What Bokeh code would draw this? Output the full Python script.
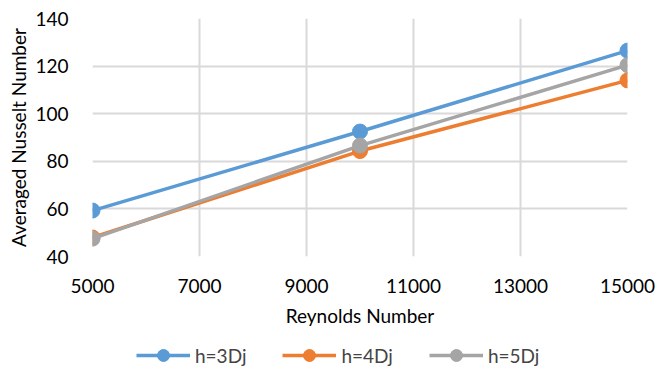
from bokeh.plotting import figure
from bokeh.layouts import column
from bokeh.models import Range1d, FixedTicker, Legend, LegendItem
from bokeh.embed import file_html
from bokeh.resources import INLINE

reynolds = [5000, 10000, 15000]
nu_3dj = [59.3, 92.5, 126.5]
nu_4dj = [48.0, 84.3, 114.0]
nu_5dj = [47.5, 86.6, 120.4]
series_names = ["h=3Dj", "h=4Dj", "h=5Dj"]
colors = ["#5b9bd5", "#ed7d31", "#a5a5a5"]
x_ticks = [5000, 7000, 9000, 11000, 13000, 15000]
y_ticks = [40, 60, 80, 100, 120, 140]

FONT = "Lato"
FS = "19px"

p = figure(width=655, height=330,
           output_backend="svg", toolbar_location=None,
           x_range=Range1d(5000, 15000), y_range=Range1d(40, 140),
           min_border_left=92, min_border_right=28, min_border_top=18, min_border_bottom=74)
p.outline_line_color = None
p.background_fill_color = "white"
p.border_fill_color = "white"

series = [nu_3dj, nu_4dj, nu_5dj]
for name, vals, c in zip(series_names, series, colors):
    p.line(reynolds, vals, line_color=c, line_width=3.5)
    p.scatter(reynolds, vals, size=15, fill_color=c, line_color=c)

for ax in (p.xaxis[0], p.yaxis[0]):
    ax.axis_line_color = None
    ax.major_tick_line_color = None
    ax.minor_tick_line_color = None
    ax.major_label_text_font = FONT
    ax.major_label_text_font_size = FS
    ax.major_label_text_color = "#000000"
    ax.axis_label_text_font = FONT
    ax.axis_label_text_font_size = FS
    ax.axis_label_text_font_style = "normal"
    ax.axis_label_text_color = "#000000"

p.xaxis.ticker = FixedTicker(ticks=x_ticks)
p.yaxis.ticker = FixedTicker(ticks=y_ticks)
p.xaxis.axis_label = "Reynolds Number"
p.yaxis.axis_label = "Averaged Nusselt Number"
p.xaxis.major_label_standoff = 16
p.yaxis.major_label_standoff = 18
p.xaxis.axis_label_standoff = 8
p.yaxis.axis_label_standoff = 2

p.xgrid.grid_line_color = "#d9d9d9"
p.ygrid.grid_line_color = "#d9d9d9"
p.xgrid.grid_line_width = 2
p.ygrid.grid_line_width = 2

# legend strip: same series drawn outside its visible range, legend only
lf = figure(width=655, height=48, output_backend="svg", toolbar_location=None,
            x_range=Range1d(0, 1), y_range=Range1d(0, 1),
            x_axis_type=None, y_axis_type=None,
            min_border_left=0, min_border_right=0, min_border_top=0, min_border_bottom=0)
lf.outline_line_color = None
lf.xgrid.visible = False
lf.ygrid.visible = False
items = []
for name, vals, c in zip(series_names, series, colors):
    l = lf.line(reynolds, vals, line_color=c, line_width=3.5)
    s = lf.scatter(reynolds, vals, size=15, fill_color=c, line_color=c)
    items.append(LegendItem(label=name, renderers=[l, s]))

legend = Legend(items=items, orientation="horizontal", location=(44, 8),
                label_text_font=FONT, label_text_font_size=FS,
                glyph_width=54, glyph_height=30, spacing=36,
                border_line_color=None, background_fill_alpha=0,
                margin=0, padding=0, label_standoff=5)
lf.add_layout(legend, "center")

open("out.html", "w").write(file_html(column(p, lf, spacing=0), INLINE))
